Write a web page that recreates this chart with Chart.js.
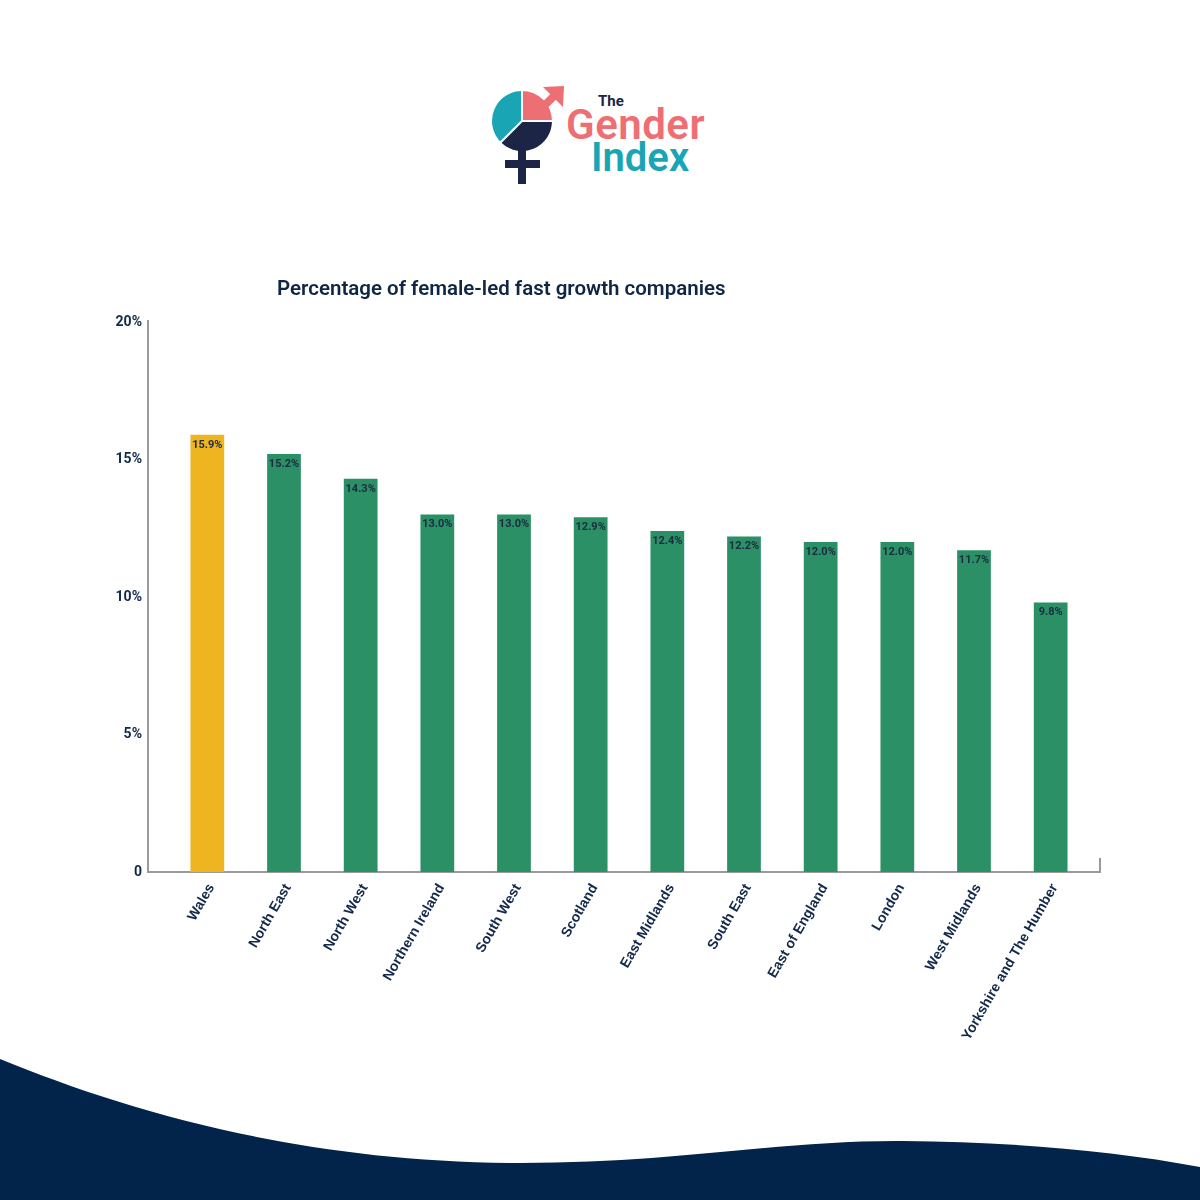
<!DOCTYPE html>
<html>
<head>
<meta charset="utf-8">
<script src="https://cdn.jsdelivr.net/npm/chart.js@4.4.0/dist/chart.umd.min.js"></script>
<style>
  html, body { margin: 0; padding: 0; background: #fff; }
  #page { position: relative; width: 1200px; height: 1200px; overflow: hidden; background: #fff; font-family: Roboto, sans-serif; }
  #logo { position: absolute; left: 0; top: 0; }
  #wave { position: absolute; left: 0; top: 0; }
  #title { position: absolute; left: 277px; top: 276px; margin: 0; font: 600 20.5px Roboto, sans-serif; color: #0f2744; white-space: nowrap; }
  #chartBox { position: absolute; left: 0; top: 0; width: 1200px; height: 1200px; }
</style>
</head>
<body>
<div id="page">
  <svg id="wave" width="1200" height="1200">
    <path d="M0 1059 C130 1112, 300 1162, 520 1163 C680 1163, 780 1140, 903 1141 C1010 1142, 1110 1150, 1200 1167 L1200 1200 L0 1200 Z" fill="#02234a"/>
  </svg>
  <svg id="logo" width="1200" height="220">
    <!-- female cross -->
    <rect x="518" y="140" width="8" height="44" fill="#1c2545"/>
    <rect x="505" y="160" width="35" height="8" fill="#1c2545"/>
    <!-- arrow -->
    <line x1="540" y1="110" x2="557" y2="93" stroke="#ee6f73" stroke-width="8"/>
    <polygon points="543,87 564,86 563,107" fill="#ee6f73"/>
    <!-- pie -->
    <path d="M522 121 L522 91 A30 30 0 0 1 552 121 Z" fill="#ee6f73"/>
    <path d="M522 121 L552 121 A30 30 0 0 1 500.8 142.2 Z" fill="#1c2545"/>
    <path d="M522 121 L500.8 142.2 A30 30 0 0 1 522 91 Z" fill="#1aa5b5"/>
    <line x1="522" y1="121" x2="522" y2="90" stroke="#fff" stroke-width="2"/>
    <line x1="522" y1="121" x2="553" y2="121" stroke="#fff" stroke-width="2"/>
    <line x1="522" y1="121" x2="500" y2="143" stroke="#fff" stroke-width="2"/>
    <text x="598" y="106" font-family="Roboto" font-weight="700" font-size="15" fill="#1c2545">The</text>
    <text x="566" y="139" font-family="Roboto" font-weight="600" font-size="42" fill="#ee6f73" letter-spacing="0.5">Gender</text>
    <text x="591" y="171" font-family="Roboto" font-weight="600" font-size="40" fill="#1aa5b5">Index</text>
  </svg>
  <div id="chartBox"><canvas id="grafico" width="1200" height="1200"></canvas></div>
  <h2 id="title">Percentage of female-led fast growth companies</h2>
</div>
<script>
var regions = ['Wales', 'North East', 'North West', 'Northern Ireland', 'South West', 'Scotland', 'East Midlands', 'South East', 'East of England', 'London', 'West Midlands', 'Yorkshire and The Humber'];
var shares = [15.9, 15.2, 14.3, 13.0, 13.0, 12.9, 12.4, 12.2, 12.0, 12.0, 11.7, 9.8];
var yTicks = [0, 5, 10, 15, 20];

var navy = '#13294b';
var barColors = shares.map(function (v, i) { return i === 0 ? '#efb521' : '#2b9066'; });

// axis lines drawn a bit wider than the plot area, like the original
var axisLines = {
  id: 'axisLines',
  beforeDatasetsDraw: function (chart) {
    var c = chart.ctx, a = chart.chartArea;
    var left = a.left - 21, right = a.right + 11;
    c.save();
    c.strokeStyle = '#9a9a9a';
    c.lineWidth = 2;
    c.beginPath();
    c.moveTo(left, a.top - 2);
    c.lineTo(left, a.bottom);
    c.lineTo(right, a.bottom);
    c.lineTo(right, a.bottom - 14);
    c.stroke();
    c.restore();
  }
};

var barLabels = {
  id: 'barLabels',
  afterDatasetsDraw: function (chart) {
    var c = chart.ctx;
    var meta = chart.getDatasetMeta(0);
    c.save();
    c.font = 'bold 11px Roboto, sans-serif';
    c.fillStyle = '#1b2b40';
    c.textAlign = 'center';
    c.textBaseline = 'middle';
    meta.data.forEach(function (bar, i) {
      c.fillText(shares[i].toFixed(1) + '%', bar.x, bar.y + 10);
    });
    c.restore();
  }
};

var ctx = document.getElementById('grafico').getContext('2d');
var barChart = new Chart(ctx, {
  type: 'bar',
  data: {
    labels: regions,
    datasets: [{
      label: 'Percentage of female-led fast growth companies',
      data: shares,
      backgroundColor: barColors,
      borderWidth: 0,
      barPercentage: 0.44,
      categoryPercentage: 1
    }]
  },
  options: {
    responsive: false,
    animation: false,
    layout: { padding: { left: 0, top: 322, right: 111, bottom: 0 } },
    plugins: {
      legend: { display: false },
      title: { display: false },
      tooltip: { enabled: false }
    },
    scales: {
      x: {
        grid: { display: false, drawTicks: false },
        border: { display: false },
        ticks: {
          color: navy,
          font: { family: 'Liberation Sans', weight: 'bold', size: 14 },
          maxRotation: 60,
          minRotation: 60,
          padding: 9,
          labelOffset: 4
        },
        afterFit: function (s) { s.height = 328; }
      },
      y: {
        min: 0,
        max: 20,
        afterBuildTicks: function (s) { s.ticks = yTicks.map(function (v) { return { value: v }; }); },
        grid: { display: false, drawTicks: false },
        border: { display: false },
        ticks: {
          color: navy,
          font: { family: 'Roboto', weight: 'bold', size: 14 },
          padding: 27,
          callback: function (v) { return v === 0 ? '0' : v + '%'; }
        },
        afterFit: function (s) { s.width = 169; }
      }
    }
  },
  plugins: [axisLines, barLabels]
});
</script>
</body>
</html>
